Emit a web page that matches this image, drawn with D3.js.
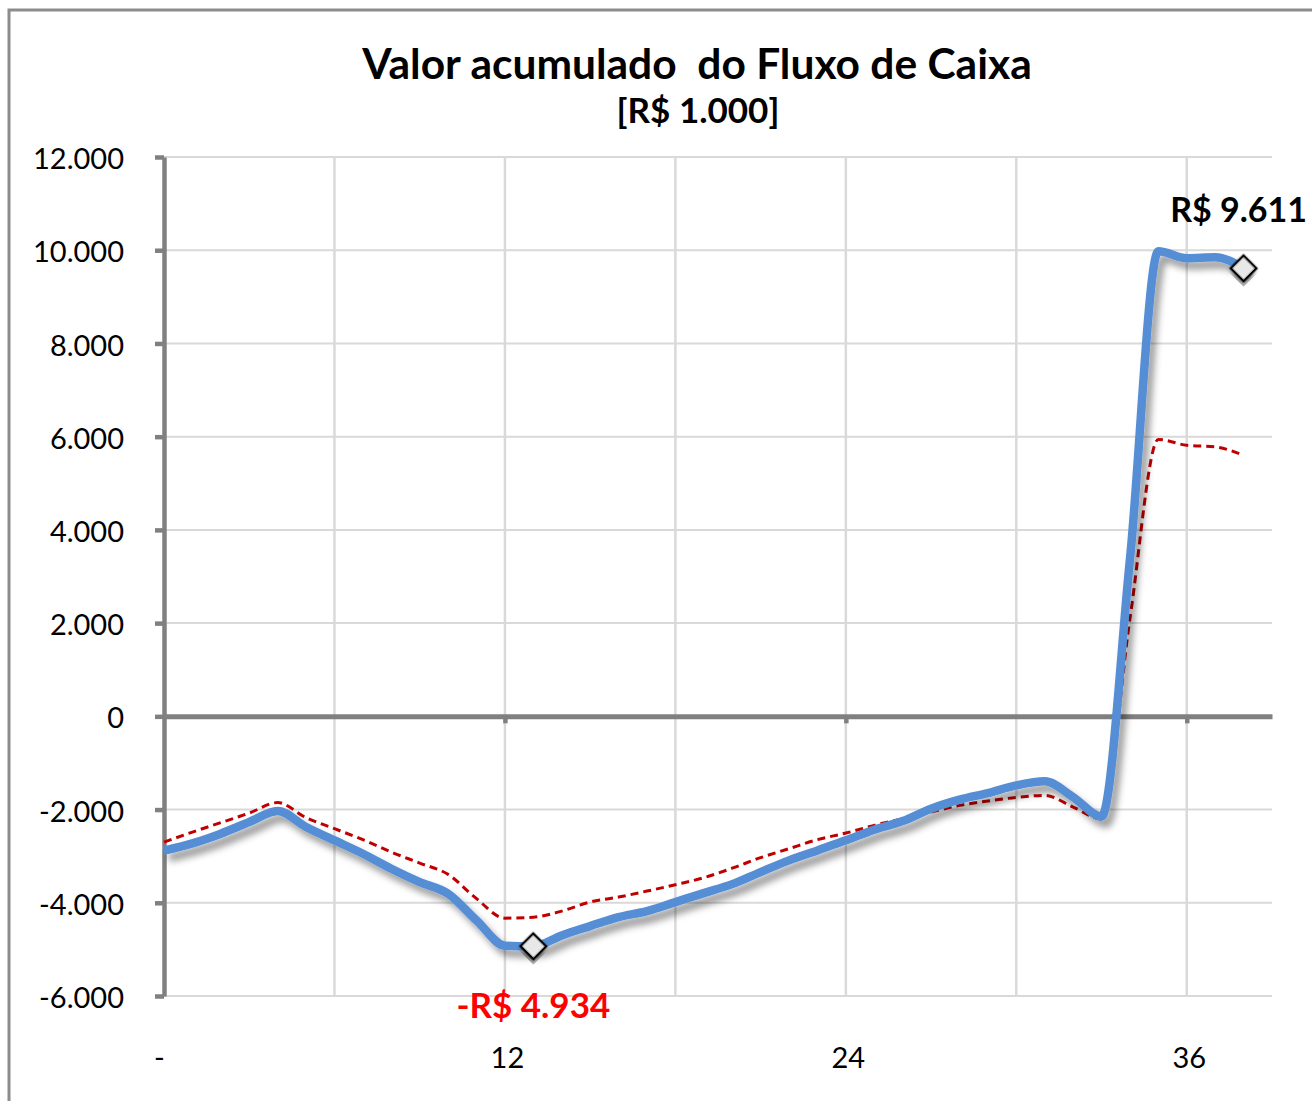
<!DOCTYPE html>
<html>
<head>
<meta charset="utf-8">
<script src="https://cdn.jsdelivr.net/npm/d3@7"></script>
<style>
  body { margin: 0; background: #fff; }
  svg { display: block; font-family: Lato, 'Open Sans', sans-serif; }
</style>
</head>
<body>
<script>
// meses do projeto (categoria do eixo x)
const meses = [0, 1, 2, 3, 4, 5, 6, 7, 8, 9, 10, 11, 12, 13, 14, 15, 16, 17, 18, 19,
               20, 21, 22, 23, 24, 25, 26, 27, 28, 29, 30, 31, 32, 33, 34, 35, 36, 37, 38]

// valor acumulado (linha azul)
const fluxoAcumulado = [-2880, -2725, -2517, -2268, -2030, -2375, -2661, -2947, -3269, -3556,
                        -3805, -4378, -4920, -4934, -4700, -4500, -4307, -4178, -3985, -3792,
                        -3600, -3341, -3090, -2876, -2661, -2432, -2247, -1981, -1788, -1646,
                        -1481, -1395, -1732, -2150, 3370, 9980, 9830, 9850, 9611]

// valor acumulado descontado (linha tracejada vermelha)
const fluxoDescontado = [-2700, -2483, -2281, -2075, -1850, -2174, -2410, -2646, -2912, -3148,
                         -3391, -3912, -4330, -4310, -4178, -3985, -3878, -3749, -3612, -3462,
                         -3258, -3032, -2839, -2646, -2504, -2339, -2196, -2054, -1910, -1818,
                         -1740, -1695, -1946, -2200, 2100, 5940, 5815, 5780, 5600]

const yTicks = [-6000, -4000, -2000, 0, 2000, 4000, 6000, 8000, 10000, 12000]
const xGrid = [6, 12, 18, 24, 30, 36]
const xLabels = [0, 12, 24, 36]

const w = 1312
const h = 1101

const pt = d3.formatLocale({decimal: ',', thousands: '.', grouping: [3], currency: ['R$ ', ''], minus: '-'})
const fmt = pt.format(',.0f')

const svg = d3.select('body')
              .append('svg')
              .attr('width', w)
              .attr('height', h)

const defs = svg.append('defs')
const shadow = defs.append('filter')
                   .attr('id', 'sombra')
                   .attr('x', '-20%').attr('y', '-20%')
                   .attr('width', '140%').attr('height', '140%')
shadow.append('feDropShadow')
      .attr('dx', 5)
      .attr('dy', 7)
      .attr('stdDeviation', 3.5)
      .attr('flood-color', '#000')
      .attr('flood-opacity', 0.4)

// moldura
svg.append('rect')
   .attr('x', 9).attr('y', 10)
   .attr('width', 1400).attr('height', 1200)
   .attr('fill', 'none')
   .attr('stroke', '#8c8c8c')
   .attr('stroke-width', 3)

const xScale = d3.scaleLinear()
                 .domain([0, 39])
                 .range([164, 1272])

const yScale = d3.scaleLinear()
                 .domain([-6000, 12000])
                 .range([996, 157])

// titulo
svg.append('text')
   .attr('x', 697).attr('y', 79)
   .attr('text-anchor', 'middle')
   .attr('font-size', 42.5)
   .attr('font-weight', 'bold')
   .style('white-space', 'pre')
   .text('Valor acumulado  do Fluxo de Caixa')

svg.append('text')
   .attr('x', 698).attr('y', 123)
   .attr('text-anchor', 'middle')
   .attr('font-size', 35)
   .attr('font-weight', 'bold')
   .text('[R$ 1.000]')

// grade
svg.append('g')
   .selectAll('line')
   .data(yTicks)
   .enter()
   .append('line')
   .attr('x1', xScale(0)).attr('x2', xScale(39))
   .attr('y1', d => yScale(d)).attr('y2', d => yScale(d))
   .attr('stroke', '#d9d9d9')
   .attr('stroke-width', 2)

svg.append('g')
   .selectAll('line')
   .data(xGrid)
   .enter()
   .append('line')
   .attr('x1', d => xScale(d)).attr('x2', d => xScale(d))
   .attr('y1', yScale(12000)).attr('y2', yScale(-6000))
   .attr('stroke', '#d9d9d9')
   .attr('stroke-width', 2.5)

// eixo y
const yAxis = d3.axisLeft(yScale)
                .tickValues(yTicks)
                .tickFormat(fmt)
                .tickSize(9)
                .tickSizeOuter(0)
                .tickPadding(31)

const gy = svg.append('g')
              .attr('transform', `translate(${xScale(0)},0)`)
              .call(yAxis)
gy.select('.domain').attr('stroke', '#808080').attr('stroke-width', 4.5)
gy.selectAll('.tick line').attr('stroke', '#808080').attr('stroke-width', 4.5)
gy.selectAll('.tick text')
  .attr('font-size', 29)
  .attr('font-family', 'Lato, sans-serif')
  .attr('fill', '#000')
  .attr('dy', '0.4em')

// eixo x na linha do zero
const xAxis = d3.axisBottom(xScale)
                .tickValues([12, 24, 36])
                .tickFormat('')
                .tickSize(7)
                .tickSizeOuter(0)

const gx = svg.append('g')
              .attr('transform', `translate(0,${yScale(0)})`)
              .call(xAxis)
gx.select('.domain').attr('stroke', '#808080').attr('stroke-width', 5)
gx.selectAll('.tick line').attr('stroke', '#808080').attr('stroke-width', 4.5)

// rotulos do eixo x em baixo
const xLabelAxis = d3.axisBottom(xScale)
                     .tickValues(xLabels)
                     .tickFormat(d => d === 0 ? '-' : d)
                     .tickSize(0)
                     .tickPadding(0)

const gl = svg.append('g')
              .attr('transform', `translate(2,1047)`)
              .call(xLabelAxis)
gl.select('.domain').remove()
gl.selectAll('.tick text')
  .attr('font-size', 29)
  .attr('font-family', 'Lato, sans-serif')
  .attr('fill', '#000')
gl.selectAll('.tick text')
  .filter(d => d === 0)
  .attr('dx', -7)

// linhas
const linha = (serie) => d3.line()
                           .x((d, i) => xScale(meses[i]))
                           .y(d => yScale(d))
                           .curve(d3.curveMonotoneX)(serie)

svg.append('path')
   .attr('d', linha(fluxoDescontado))
   .attr('fill', 'none')
   .attr('stroke', '#c00000')
   .attr('stroke-width', 3)
   .attr('stroke-dasharray', '8,5')

svg.append('path')
   .attr('d', linha(fluxoAcumulado))
   .attr('fill', 'none')
   .attr('stroke', '#558ed5')
   .attr('stroke-width', 8.5)
   .attr('stroke-linejoin', 'round')
   .attr('filter', 'url(#sombra)')

// marcadores minimo e final
const iMin = 13
const iFim = 38
const marcas = [iMin, iFim]

svg.append('g')
   .selectAll('path')
   .data(marcas)
   .enter()
   .append('path')
   .attr('d', d3.symbol().type(d3.symbolSquare).size(330))
   .attr('transform', i => `translate(${xScale(meses[i])},${yScale(fluxoAcumulado[i])}) rotate(45)`)
   .attr('fill', '#e8e8e8')
   .attr('stroke', '#000')
   .attr('stroke-width', 2.5)
   .attr('filter', 'url(#sombra)')

svg.append('text')
   .attr('x', xScale(meses[iMin]))
   .attr('y', yScale(fluxoAcumulado[iMin]) + 72)
   .attr('text-anchor', 'middle')
   .attr('font-size', 35)
   .attr('font-weight', 'bold')
   .attr('fill', '#ff0000')
   .text('-R$ ' + fmt(-fluxoAcumulado[iMin]))

svg.append('text')
   .attr('x', xScale(meses[iFim]) - 5)
   .attr('y', yScale(fluxoAcumulado[iFim]) - 46)
   .attr('text-anchor', 'middle')
   .attr('font-size', 34)
   .attr('font-weight', 'bold')
   .attr('fill', '#000')
   .text('R$ ' + fmt(fluxoAcumulado[iFim]))
</script>
</body>
</html>
